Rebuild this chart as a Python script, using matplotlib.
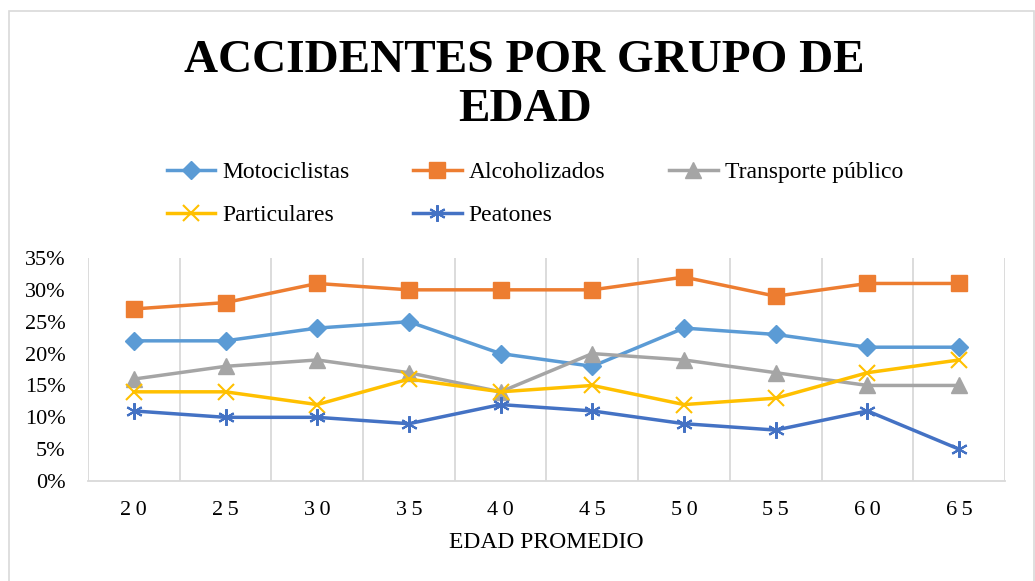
import matplotlib
matplotlib.use("Agg")
import matplotlib.pyplot as plt
from matplotlib.patches import Rectangle

plt.rcParams['font.family'] = ['Liberation Serif', 'DejaVu Serif']

# data
edades = ['20', '25', '30', '35', '40', '45', '50', '55', '60', '65']
motociclistas = [22, 22, 24, 25, 20, 18, 24, 23, 21, 21]
alcoholizados = [27, 28, 31, 30, 30, 30, 32, 29, 31, 31]
transporte = [16, 18, 19, 17, 14, 20, 19, 17, 15, 15]
particulares = [14, 14, 12, 16, 14, 15, 12, 13, 17, 19]
peatones = [11, 10, 10, 9, 12, 11, 9, 8, 11, 5]

series = [
    ('Motociclistas', motociclistas, '#5B9BD5', 'D', 9),
    ('Alcoholizados', alcoholizados, '#ED7D31', 's', 11),
    ('Transporte público', transporte, '#A5A5A5', '^', 11),
    ('Particulares', particulares, '#FFC000', 'x', 11),
    ('Peatones', peatones, '#4472C4', (6, 2, 0), 12),
]

fig = plt.figure(figsize=(10.35, 5.81), dpi=100)
ax = fig.add_axes([0.085, 0.172, 0.886, 0.384])

x = list(range(len(edades)))
lines = {}
for name, vals, col, mk, ms in series:
    ln, = ax.plot(x, [v / 100 for v in vals], color=col, lw=2.5, marker=mk,
                  markersize=ms, markeredgewidth=1.5 if mk in ('x', (6, 2, 0)) else 1,
                  label=name)
    lines[name] = ln

ax.set_xlim(-0.5, len(edades) - 0.5)
ax.set_ylim(0, 0.35)
ax.set_yticks([i / 100 for i in range(0, 36, 5)])
ax.set_yticklabels([f'{i}%' for i in range(0, 36, 5)], fontsize=16)
ax.set_xticks(x)
ax.set_xticklabels(['\u2009'.join(e) for e in edades], fontsize=16)
ax.tick_params(axis='x', length=0, pad=14)
ax.tick_params(axis='y', length=0, pad=16)

# vertical gridlines on category boundaries
for b in range(len(edades) + 1):
    ax.axvline(b - 0.5, color='#D9D9D9', lw=1.3, zorder=0)

for s in ['top', 'right', 'left']:
    ax.spines[s].set_visible(False)
ax.spines['bottom'].set_color('#D9D9D9')
ax.spines['bottom'].set_linewidth(1.3)

ax.set_xlabel('EDAD PROMEDIO', fontsize=17, labelpad=9)

fig.text(0.507, 0.853, 'ACCIDENTES POR GRUPO DE\nEDAD', ha='center', va='center',
         fontsize=34, fontweight='bold', linespacing=1.2)

# legend fills column-wise, so order for rows: Moto/Alco/Trans then Part/Peat
order = ['Motociclistas', 'Particulares', 'Alcoholizados', 'Peatones', 'Transporte público']
fig.legend([lines[n] for n in order], order, loc='upper left',
           bbox_to_anchor=(0.152, 0.738), ncol=3, frameon=False,
           fontsize=17, handlelength=2.05, handletextpad=0.3, columnspacing=2.7,
           labelspacing=0.9, borderaxespad=0)

# outer chart border
fig.patches.append(Rectangle((0.009, -0.01), 0.99, 0.991, transform=fig.transFigure,
                             fill=False, edgecolor='#D9D9D9', lw=1.2))

fig.savefig('out.png', dpi=100)
